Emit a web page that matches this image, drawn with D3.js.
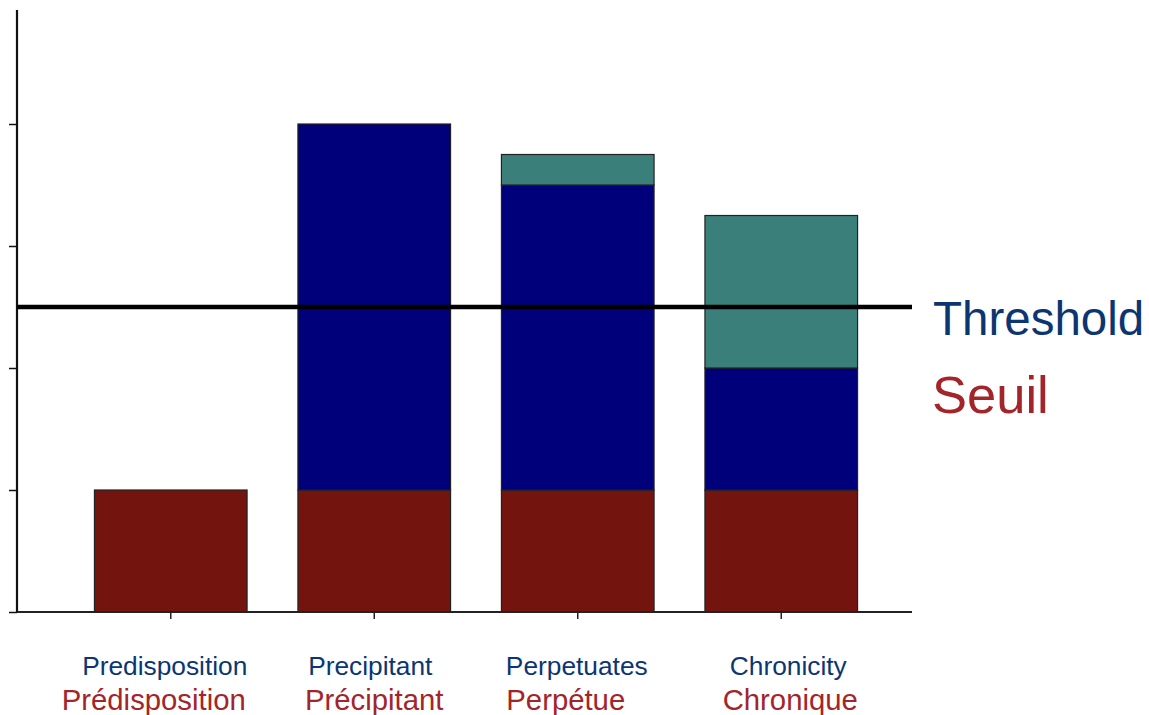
<!DOCTYPE html>
<html>
<head>
<meta charset="utf-8">
<script src="https://cdn.jsdelivr.net/npm/d3@7/dist/d3.min.js"></script>
<style>
  html, body { margin: 0; padding: 0; background: #fff; }
  svg { display: block; font-family: "Liberation Sans", Arial, sans-serif; }
</style>
</head>
<body>
<svg id="chart" width="1149" height="715"></svg>
<script>
// Stages of the model (English / French)
const categories = ["Predisposition", "Precipitant", "Perpetuates", "Chronicity"];
const categoriesFr = ["Prédisposition", "Précipitant", "Perpétue", "Chronique"];

// Stacked contributions per stage
const predisposing = [1, 1, 1, 1];
const precipitating = [0, 3, 2.5, 1];
const perpetuating = [0, 0, 0.25, 1.25];

const yTicks = [0, 1, 2, 3, 4];
const thresholdValue = 2.5;
const thresholdLabel = "Threshold";
const thresholdLabelFr = "Seuil";

const seriesKeys = ["predisposing", "precipitating", "perpetuating"];
const seriesColors = { predisposing: "#73140f", precipitating: "#00007a", perpetuating: "#3b7f7b" };

const rows = categories.map((c, i) => ({
  cat: c,
  predisposing: predisposing[i],
  precipitating: precipitating[i],
  perpetuating: perpetuating[i]
}));

const svg = d3.select("#chart");
const plotLeft = 17, plotRight = 912, plotBottom = 612, plotTop = 10;

const x = d3.scaleBand()
  .domain(categories)
  .range([69, 883])
  .paddingInner(0.25)
  .paddingOuter(0.125);

const y = d3.scaleLinear()
  .domain([0, (plotBottom - plotTop) / 122])
  .range([plotBottom, plotTop]);

const stack = d3.stack().keys(seriesKeys);
const layers = stack(rows);

// Bars
svg.append("g").selectAll("g")
  .data(layers)
  .join("g")
  .attr("fill", d => seriesColors[d.key])
  .selectAll("rect")
  .data(d => d.filter(s => s[1] - s[0] > 0))
  .join("rect")
  .attr("x", d => x(d.data.cat))
  .attr("width", x.bandwidth())
  .attr("y", d => y(d[1]))
  .attr("height", d => y(d[0]) - y(d[1]))
  .attr("stroke", "#222")
  .attr("stroke-width", 1.2);

// Y axis
const yAxis = svg.append("g")
  .attr("transform", `translate(${plotLeft},0)`)
  .call(d3.axisLeft(y).tickValues(yTicks).tickSize(8).tickFormat(""));
yAxis.select(".domain").attr("stroke", "#111").attr("stroke-width", 2.2)
  .attr("d", `M0,${plotTop}V${plotBottom}`);
yAxis.selectAll(".tick line").attr("stroke", "#111").attr("stroke-width", 1.5);

// X axis
const xAxis = svg.append("g")
  .attr("transform", `translate(0,${plotBottom})`)
  .call(d3.axisBottom(x).tickSize(7).tickFormat(""));
xAxis.select(".domain").attr("stroke", "#222").attr("stroke-width", 2)
  .attr("d", `M${plotLeft},0H${plotRight}`);
xAxis.selectAll(".tick line").attr("stroke", "#222").attr("stroke-width", 1.5);

// Category labels, nudged slightly off the band centre
const nudgeEn = [-6, -4, -1, 7];
const nudgeFr = [-17, 0, -12, 9];
const labels = svg.append("g");
labels.selectAll("text.en")
  .data(categories)
  .join("text")
  .attr("class", "en")
  .attr("x", (d, i) => x(d) + x.bandwidth() / 2 + nudgeEn[i])
  .attr("y", 675)
  .attr("text-anchor", "middle")
  .attr("font-size", 26.3)
  .attr("fill", "#0b3672")
  .text(d => d);
labels.selectAll("text.fr")
  .data(categoriesFr)
  .join("text")
  .attr("class", "fr")
  .attr("x", (d, i) => x(categories[i]) + x.bandwidth() / 2 + nudgeFr[i])
  .attr("y", 710)
  .attr("text-anchor", "middle")
  .attr("font-size", 29.3)
  .attr("fill", "#a3252a")
  .text(d => d);

// Threshold line
svg.append("line")
  .attr("x1", plotLeft).attr("x2", plotRight)
  .attr("y1", y(thresholdValue)).attr("y2", y(thresholdValue))
  .attr("stroke", "#000").attr("stroke-width", 4.5);

svg.append("text")
  .attr("x", 933).attr("y", 335)
  .attr("font-size", 47.5)
  .attr("fill", "#0b3672")
  .text(thresholdLabel);
svg.append("text")
  .attr("x", 932).attr("y", 413)
  .attr("font-size", 52.5)
  .attr("fill", "#a3252a")
  .text(thresholdLabelFr);
</script>
</body>
</html>
